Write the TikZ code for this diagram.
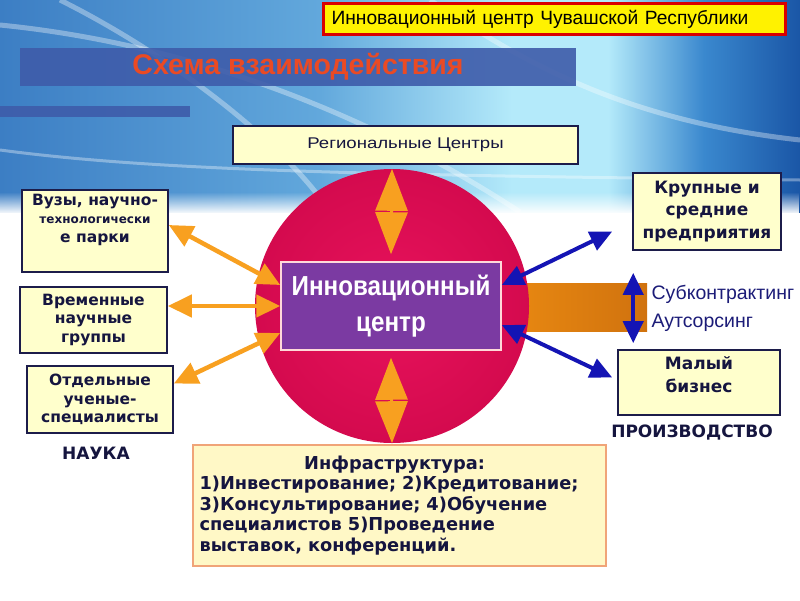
\documentclass[tikz,border=0pt]{standalone}
\usepackage{fontspec}
\setmainfont{Liberation Sans}
\newfontfamily\boxfont{DejaVu Sans}
\newfontfamily\narrowfont{Liberation Sans}[FakeStretch=0.88]
\newfontfamily\wideFont{Liberation Sans}[FakeStretch=1.2]
\usetikzlibrary{positioning}
\usetikzlibrary{arrows.meta}
\usetikzlibrary{fadings}
\definecolor{navytext}{HTML}{15153F}
\definecolor{boxline}{HTML}{1C1C4A}
\definecolor{boxfill}{HTML}{FFFFCC}
\definecolor{infrafill}{HTML}{FFF8C6}
\definecolor{infraline}{HTML}{F0A478}
\definecolor{arrorange}{HTML}{F8A020}
\definecolor{arrblue}{HTML}{1414B4}
\definecolor{spherered}{HTML}{E8125C}
\definecolor{spheredark}{HTML}{D40A4E}
\definecolor{innopurple}{HTML}{7B3AA2}
\definecolor{headred}{HTML}{EA4A24}
\definecolor{bandblue}{HTML}{3E5CAA}
\definecolor{pipeL}{HTML}{EA8A12}
\definecolor{pipeR}{HTML}{D0720E}
\definecolor{subblue}{HTML}{1C1C78}
\definecolor{sky1}{HTML}{3C7EC4}
\definecolor{sky2}{HTML}{62A8DC}
\definecolor{sky3}{HTML}{B4EAFA}
\definecolor{sky4}{HTML}{3A88CE}
\definecolor{sky5}{HTML}{1A56A6}
\pgfdeclarehorizontalshading{sky}{100bp}{color(0bp)=(sky1); color(25bp)=(sky1);
  color(45bp)=(sky2); color(57bp)=(sky3); color(63bp)=(sky3); color(69bp)=(sky4); color(75bp)=(sky5); color(100bp)=(sky5)}
\tikzset{
sidebox/.style={ % boxes on the left and right
draw=boxline, line width=1.6pt,
fill=boxfill, text=navytext,
font=\boxfont\bfseries\fontsize{15.5}{18.5}\selectfont,
align=center, inner sep=2pt},
bigbox/.style={sidebox, font=\boxfont\bfseries\fontsize{17}{22.5}\selectfont},
caption/.style={text=navytext, font=\boxfont\bfseries\fontsize{17}{20}\selectfont},
orarrow/.style={ % orange double arrows
draw=arrorange, line width=4.5pt,
arrows={Triangle[length=24pt,width=22pt]-Triangle[length=24pt,width=22pt]}},
bluearrow/.style={ % blue double arrows
draw=arrblue, line width=4pt,
arrows={Triangle[length=22pt,width=20pt]-Triangle[length=22pt,width=20pt]}},
swoosh/.style={white, opacity=0.35, line width=5pt}}

\begin{document}
\begin{tikzpicture}[x=1pt, y=-1pt]
\useasboundingbox (0,0) rectangle (800,600);
% background picture
\fill[white] (0,0) rectangle (800,600);
\shade[shading=sky] (0,0) rectangle (800,212);
\draw[swoosh] (0,25) .. controls (200,45) and (380,120) .. (520,212);
\draw[swoosh] (60,0) .. controls (180,60) and (290,150) .. (330,212);
\draw[swoosh] (430,0) .. controls (520,60) and (620,120) .. (800,140);
\draw[swoosh, line width=3pt] (0,150) .. controls (150,170) and (350,175) .. (800,180);
\fill[white, path fading=north] (0,192) rectangle (800,214);
\fill[bandblue, opacity=0.9] (20,48) rectangle (576,86);
\fill[bandblue, opacity=0.9] (0,106) rectangle (190,117);

\node[draw=red!85!black, line width=3pt, fill=yellow, anchor=north west,
  minimum height=31pt, text width=446pt, inner xsep=8pt,
  font=\fontsize{19.2}{20}\selectfont] (title) at (322,2) {Инновационный центр Чувашской Республики};
\node[text=headred, font=\bfseries\fontsize{28.5}{30}\selectfont] (scheme) at (298,67) {Схема взаимодействия};
\node[sidebox, minimum width=345pt, minimum height=38pt, font=\wideFont\fontsize{15.5}{17}\selectfont] (region) at (405.5,145) {Региональные Центры};

% orange band behind the sphere
\node[left color=pipeL, right color=pipeR, minimum width=147pt, minimum height=48pt] (pipe) at (573.5,307) {};
\node[circle, minimum size=274pt, inner sep=0pt, inner color=spherered, outer color=spheredark] (sphere) at (392,306) {};
\node[fill=innopurple, draw=pink!60, line width=1.5pt, minimum width=220pt, minimum height=88pt,
  text=white, align=center, font=\narrowfont\bfseries\fontsize{27.5}{36}\selectfont] (inno) at (391,306) {Инновационный\\центр};

% science
\node[sidebox, minimum width=146pt, minimum height=82pt, text depth=26pt] (vuz) at (95,231) {Вузы, научно-\\{\fontsize{12}{17}\selectfont технологически}\\е парки};
\node[sidebox, minimum width=147pt, minimum height=66pt] (vrem) at (93.5,320) {Временные\\научные\\группы};
\node[sidebox, minimum width=146pt, minimum height=67pt] (uchen) at (100,399.5) {Отдельные\\ученые-\\специалисты};
\node[caption] (nauka) at (96,453) {НАУКА};

% production
\node[bigbox, minimum width=148pt, minimum height=77pt] (krup) at (707,211.5) {Крупные и\\средние\\предприятия};
\node[bigbox, minimum width=162pt, minimum height=65pt, text depth=16pt] (maly) at (699,382.5) {Малый\\бизнес};
\node[caption] (proizv) at (692,433) {ПРОИЗВОДСТВО};
\node[anchor=west, text=subblue, align=left, font=\fontsize{19.5}{28}\selectfont] (sub) at (648,308) {Субконтрактинг\\Аутсорсинг};

% infrastructure
\node[draw=infraline, line width=1.8pt, fill=infrafill, minimum width=413pt, minimum height=121pt,
  text width=400pt, align=left, text=navytext, font=\boxfont\bfseries\fontsize{17.8}{20.5}\selectfont] (infra) at (399.5,505.5)
  {\makebox[390pt]{Инфраструктура:}\\1)Инвестирование; 2)Кредитование;\\3)Консультирование; 4)Обучение\\специалистов 5)Проведение\\выставок, конференций.};

\draw[orarrow] ([yshift=6pt]vuz.east) -- ([yshift=21pt]inno.west);
\draw[orarrow] ([yshift=14pt]vrem.east) -- (inno.west);
\draw[orarrow] ([yshift=16pt]uchen.east) -- ([yshift=-27pt]inno.west);
\draw[draw=arrorange, line width=3pt, arrows={Triangle[length=42pt,width=32pt]-Triangle[length=42pt,width=32pt]}]
  (sphere.north) -- ([yshift=7pt]inno.north);
\draw[draw=arrorange, line width=3pt, arrows={Triangle[length=42pt,width=32pt]-Triangle[length=42pt,width=32pt]}]
  ([yshift=-7pt]inno.south) -- (sphere.south);
\draw[bluearrow] ([yshift=21pt]inno.east) -- ([xshift=-20pt,yshift=-20pt]krup.west);
\draw[bluearrow] ([yshift=-19pt]inno.east) -- ([xshift=-5pt,yshift=5pt]maly.west);
\draw[bluearrow] ([xshift=-14pt,yshift=10pt]pipe.north east) -- ([xshift=-14pt,yshift=-12pt]pipe.south east);
\end{tikzpicture}
\end{document}
